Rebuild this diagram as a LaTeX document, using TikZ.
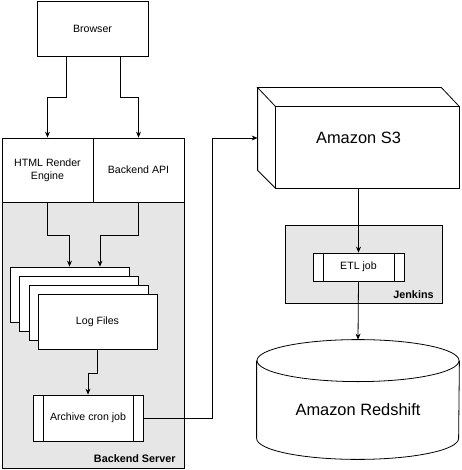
\documentclass[tikz,border=0pt]{standalone}
\usepackage{fontspec}
\setmainfont{Liberation Sans}
\usetikzlibrary{arrows.meta, shapes.geometric, positioning}
\definecolor{groupfill}{HTML}{E6E6E6}

\begin{document}
\begin{tikzpicture}[
    x=1pt, y=-1pt,
    line width=0.8pt,
    box/.style={rectangle, draw, fill=white, align=center, inner sep=2pt, font=\fontsize{10.6}{12.6}\selectfont},
    group/.style={rectangle, draw, fill=groupfill, inner sep=0pt},
    grouplabel/.style={anchor=east, inner sep=0pt, font=\fontsize{10.8}{13}\selectfont\bfseries},
    job/.style={box, path picture={
        \draw ([xshift=10pt]path picture bounding box.north west) -- ([xshift=10pt]path picture bounding box.south west);
        \draw ([xshift=-10pt]path picture bounding box.north east) -- ([xshift=-10pt]path picture bounding box.south east);}},
    big/.style={font=\fontsize{16.4}{19}\selectfont},
    arrow/.style={-{Stealth[length=6pt,width=5pt]}}
]
    \useasboundingbox (0,0) rectangle (461,470);

    % backend server
    \node[group, minimum width=182, minimum height=266] (server) at (93,335) {};
    \node[grouplabel] (serverlabel) at (176,459) {Backend Server};
    \node[box, minimum width=111, minimum height=55] (browser) at (92.5,28.5) {Browser};
    \node[box, minimum width=91, minimum height=64] (html) at (47.5,170) {HTML Render\\Engine};
    \node[box, minimum width=91, minimum height=64] (api) at (138.5,170) {Backend API};
    \node[box, minimum width=119, minimum height=55] (logA) at (69.5,294.5) {};
    \node[box, minimum width=119, minimum height=55] (logB) at (79,303.5) {};
    \node[box, minimum width=119, minimum height=55] (logC) at (88.5,312.5) {};
    \node[box, minimum width=119, minimum height=55] (logD) at (97.5,321.5) {Log Files};
    \node[job, minimum width=110, minimum height=46] (cron) at (88,418) {Archive cron job};

    % storage and jenkins
    \node[inner sep=0pt, minimum width=201, minimum height=100, big] (s3) at (358.5,138) {Amazon S3};
    \draw ([xshift=18pt,yshift=-19pt]s3.north west) rectangle (s3.south east);
    \draw ([xshift=18pt,yshift=-19pt]s3.north west) -- (s3.north west) -- ([xshift=-18pt]s3.north east) -- ([yshift=-19pt]s3.north east);
    \draw (s3.north west) -- ([yshift=18pt]s3.south west) -- ([xshift=18pt]s3.south west);
    \node[group, minimum width=157, minimum height=78] (jenkins) at (363.5,264) {};
    \node[grouplabel] (jenkinslabel) at (434,295) {Jenkins};
    \node[job, minimum width=91, minimum height=28] (etl) at (358.5,267) {ETL job};
    \node[inner sep=0pt, minimum width=202, minimum height=98, big] (redshift) at (358,410) {Amazon Redshift};
    \draw (redshift.north west) -- ([yshift=21pt]redshift.south west) arc[start angle=180, end angle=360, x radius=101pt, y radius=21pt] -- (redshift.north east);
    \draw (redshift.north) ellipse [x radius=101pt, y radius=21pt];

    \draw[arrow] ([xshift=-26.5pt]browser.south) -- ++(0,41) -| (html.north);
    \draw[arrow] ([xshift=27.5pt]browser.south) -- ++(0,41) -| (api.north);
    \draw[arrow] (html.south) -- ++(0,33) -| (logA.north);
    \draw[arrow] (api.south) -- ++(0,33) -| ([xshift=30.5pt]logA.north);
    \draw[arrow] (logD.south) -- ++(0,24) -| (cron.north);
    \draw[arrow] (cron.east) -- ++(69,0) |- (s3.west);
    \draw[arrow] (s3.south) -- (etl.north);
    \draw[arrow] (etl.south) -- ([yshift=21pt]redshift.north);
\end{tikzpicture}
\end{document}
